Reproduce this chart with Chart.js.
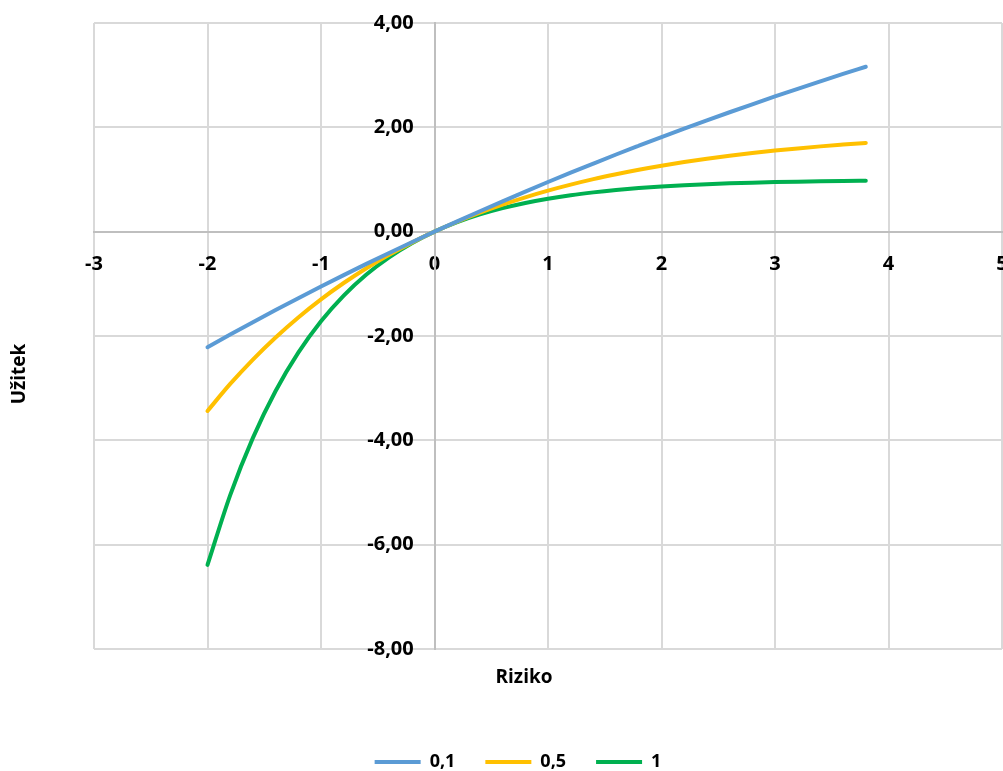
<!DOCTYPE html>
<html>
<head>
<meta charset="utf-8">
<script src="https://cdn.jsdelivr.net/npm/chart.js@4.4.1/dist/chart.umd.min.js"></script>
<style>
  html, body { margin: 0; padding: 0; background: #fff; overflow: hidden; }
  #wrap { width: 1003px; height: 781px; }
</style>
</head>
<body>
<div id="wrap"><canvas id="chart"></canvas></div>
<script>
// Riziko (x) a užitek pro tři koeficienty
const riziko = [-2, -1.8, -1.6, -1.4, -1.2, -1, -0.8, -0.6, -0.4, -0.2, 0, 0.2, 0.4, 0.6, 0.8, 1, 1.2, 1.4, 1.6, 1.8, 2, 2.2, 2.4, 2.6, 2.8, 3, 3.2, 3.4, 3.6, 3.8];
const uzitek01 = [-2.214, -1.972, -1.735, -1.503, -1.275, -1.052, -0.833, -0.618, -0.408, -0.202, 0, 0.198, 0.392, 0.582, 0.769, 0.952, 1.131, 1.306, 1.479, 1.647, 1.813, 1.975, 2.134, 2.289, 2.442, 2.592, 2.739, 2.882, 3.023, 3.161];
const uzitek05 = [-3.437, -2.919, -2.451, -2.028, -1.644, -1.297, -0.984, -0.700, -0.443, -0.210, 0, 0.190, 0.363, 0.518, 0.659, 0.787, 0.902, 1.007, 1.101, 1.187, 1.264, 1.334, 1.398, 1.455, 1.507, 1.554, 1.596, 1.635, 1.669, 1.701];
const uzitek1 = [-6.389, -5.050, -3.953, -3.055, -2.320, -1.718, -1.226, -0.822, -0.492, -0.221, 0, 0.181, 0.330, 0.451, 0.551, 0.632, 0.699, 0.753, 0.798, 0.835, 0.865, 0.889, 0.909, 0.926, 0.939, 0.950, 0.959, 0.967, 0.973, 0.978];
const seriesLabels = ['0,1', '0,5', '1'];
const xTitle = 'Riziko';
const yTitle = 'Užitek';

const colors = ['#5B9BD5', '#FFC000', '#00B050'];
const font = { family: "'Open Sans', sans-serif", size: 20, weight: 'bold' };

function toPoints(ys) {
  return riziko.map((x, i) => ({ x: x, y: ys[i] }));
}

const datasets = [uzitek01, uzitek05, uzitek1].map((ys, i) => ({
  label: seriesLabels[i],
  data: toPoints(ys),
  borderColor: colors[i],
  backgroundColor: colors[i],
  borderWidth: 4,
  borderCapStyle: 'round',
  pointRadius: 0,
  cubicInterpolationMode: 'monotone',
  xAxisID: 'x',
  yAxisID: 'y'
}));

// titles drawn where the original places them
const axisTitles = {
  id: 'axisTitles',
  afterDraw(chart) {
    const ctx = chart.ctx;
    ctx.save();
    ctx.fillStyle = '#000';
    ctx.font = 'bold 19px "Open Sans"';
    ctx.textAlign = 'center';
    ctx.textBaseline = 'middle';
    ctx.fillText(xTitle, 524, 678);
    ctx.translate(20, 374);
    ctx.rotate(-Math.PI / 2);
    ctx.fillText(yTitle, 0, 0);
    ctx.restore();
  }
};

// keep tick labels from shrinking the plot area
function noPad(s) {
  s.paddingLeft = 0;
  s.paddingRight = 0;
  s.paddingTop = 0;
  s.paddingBottom = 0;
}

new Chart(document.getElementById('chart'), {
  type: 'line',
  data: { datasets: datasets },
  plugins: [axisTitles],
  options: {
    responsive: true,
    maintainAspectRatio: false,
    animation: false,
    layout: { padding: { left: 34, right: 1, top: 23, bottom: 0 } },
    plugins: {
      legend: {
        position: 'bottom',
        labels: {
          usePointStyle: true,
          pointStyle: 'line',
          pointStyleWidth: 46,
          boxHeight: 4,
          padding: 30,
          color: '#000',
          font: { family: "'Open Sans', sans-serif", size: 18, weight: 'bold' }
        }
      },
      tooltip: { enabled: false }
    },
    scales: {
      x: {
        type: 'linear',
        min: -3,
        max: 5,
        position: { y: 0 },
        grid: { color: '#d9d9d9', lineWidth: 2, drawTicks: false },
        border: { color: '#bfbfbf', width: 2 },
        ticks: { stepSize: 1, padding: 21, color: '#000', font: font,
          callback: v => String(v) },
        afterFit: noPad
      },
      y: {
        type: 'linear',
        min: -8,
        max: 4,
        position: { x: 0 },
        grid: { color: '#d9d9d9', lineWidth: 2, drawTicks: false },
        border: { color: '#bfbfbf', width: 2 },
        ticks: { stepSize: 2, color: '#000', font: font,
          callback: v => v.toFixed(2).replace('.', ',') + '    ' },
        afterFit: noPad
      },
      padX: {
        type: 'linear',
        axis: 'x',
        position: 'bottom',
        grid: { display: false },
        border: { display: false },
        ticks: { display: false },
        afterFit(s) { s.height = 74; }
      },
      padY: {
        type: 'linear',
        axis: 'y',
        position: 'left',
        grid: { display: false },
        border: { display: false },
        ticks: { display: false },
        afterFit(s) { s.width = 60; }
      }
    }
  }
});
</script>
</body>
</html>
